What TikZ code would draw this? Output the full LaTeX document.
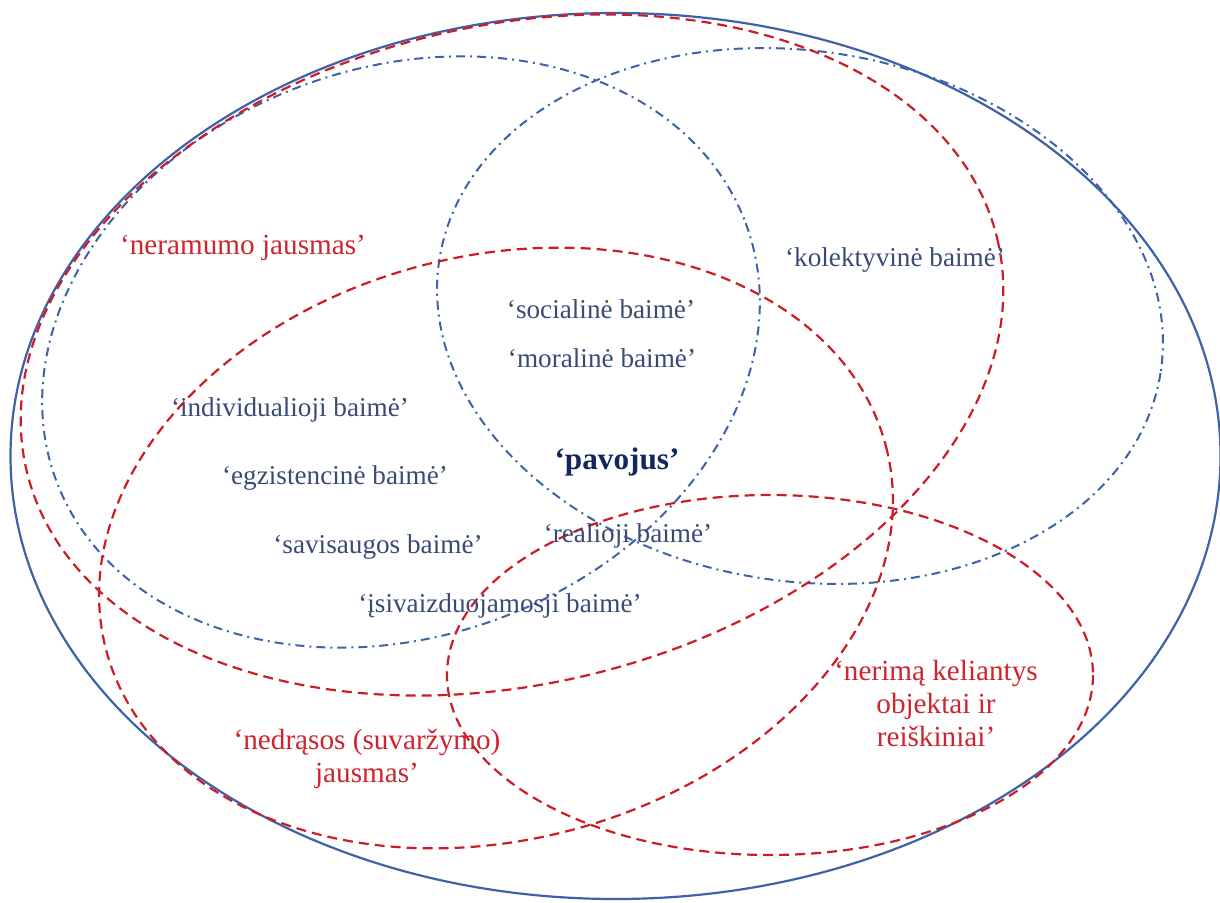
\documentclass[tikz,border=0pt]{standalone}
\usepackage{fontspec}
\setmainfont{Liberation Serif}
\definecolor{lineblue}{RGB}{62,98,168}
\definecolor{linered}{RGB}{204,28,38}
\definecolor{textblue}{RGB}{58,74,118}
\definecolor{textred}{RGB}{206,36,46}
\definecolor{darknavy}{RGB}{18,40,92}

\begin{document}
\begin{tikzpicture}[x=0.5pt,y=-0.5pt]
    \tikzstyle{outer} = [lineblue, line width=1.1pt]
    \tikzstyle{reddash} = [linered, line width=1.1pt, dash pattern=on 5pt off 3pt]
    \tikzstyle{bluedashdot} = [lineblue, line width=1pt, dash pattern=on 4.5pt off 2.5pt on 1pt off 2.5pt]
    \tikzstyle{bluetext} = [textblue, font=\fontsize{13.6}{16}\selectfont, inner sep=0pt]
    \tikzstyle{redtext} = [textred, font=\fontsize{14.6}{16.5}\selectfont, align=center, inner sep=0pt]
    \useasboundingbox (0,0) rectangle (1220,903);
    % outer ellipse
    \draw[outer] (615.5,456) ellipse [x radius=605, y radius=443];
    % blue dash-dot ellipses
    \draw[bluedashdot, rotate around={20.5:(401,352)}] (401,352) ellipse [x radius=368, y radius=284];
    \draw[bluedashdot, rotate around={-9:(800,316)}] (800,316) ellipse [x radius=365, y radius=265];
    % red dashed ellipses
    \draw[reddash, rotate around={13.5:(512,355)}] (512,355) ellipse [x radius=499, y radius=329];
    \draw[reddash, rotate around={14.6:(496,548)}] (496,548) ellipse [x radius=403, y radius=292];
    \draw[reddash] (770,675) ellipse [x radius=323, y radius=180];
    % labels
    \node[redtext] (neramumas) at (243,248) {‘neramumo jausmas’};
    \node[bluetext] (kolektyvine) at (895,260) {‘kolektyvinė baimė’};
    \node[bluetext] (socialine) at (601,309) {‘socialinė baimė’};
    \node[bluetext] (moraline) at (602,358) {‘moralinė baimė’};
    \node[bluetext] (individuali) at (290,410) {‘individualioji baimė’};
    \node[darknavy, font=\bfseries\fontsize{15.6}{18}\selectfont, inner sep=0pt] (pavojus) at (617,462) {‘pavojus’};
    \node[bluetext] (egzistencine) at (335,478) {‘egzistencinė baimė’};
    \node[bluetext] (realioji) at (628,536) {‘realioji baimė’};
    \node[bluetext] (savisaugos) at (378,547) {‘savisaugos baimė’};
    \node[bluetext] (isivaizduojama) at (500,606) {‘įsivaizduojamosji baimė’};
    \node[redtext] (nedrasa) at (367,759) {‘nedrąsos (suvaržymo)\\jausmas’};
    \node[redtext] (nerimas) at (936,704) {‘nerimą keliantys\\objektai ir\\reiškiniai’};
\end{tikzpicture}
\end{document}
